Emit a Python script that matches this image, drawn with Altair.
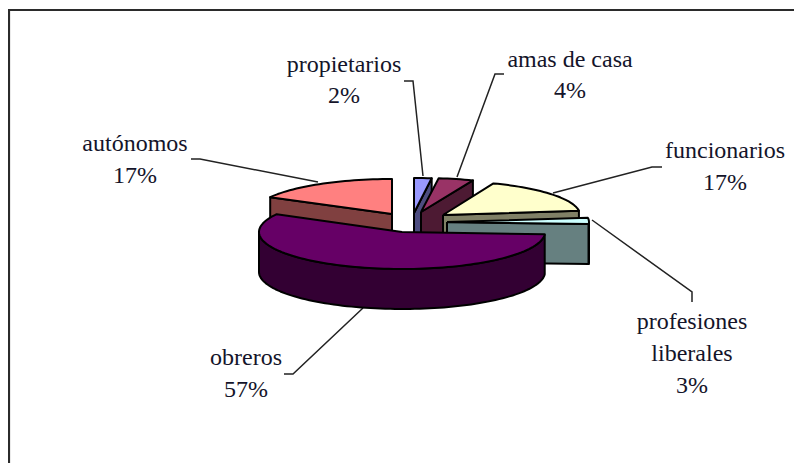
import math
import altair as alt
import pandas as pd

# ---- chart values -------------------------------------------------------
names = ["propietarios", "amas de casa", "funcionarios",
         "profesiones liberales", "obreros", "autónomos"]
shares = [2, 4, 17, 3, 57, 17]
top_colors = ["#9999ff", "#993366", "#ffffcc", "#ccffff", "#660066", "#ff8080"]
wall_colors = ["#4d4d80", "#4d1a33", "#808066", "#668080", "#330033", "#804040"]

# ---- exploded 3-D layout (page pixels) ----------------------------------
apex_x = [414, 421, 443, 447, 402, 392]
apex_y = [213, 212, 215, 222, 232, 214]
radius_x = [141, 141, 137, 142, 143, 139]
radius_y = [35, 34, 34, 33, 37, 35]
depth = 40
draw_order = [0, 1, 5, 2, 3, 4]

# ---- labels and leader lines --------------------------------------------
label_text = ["propietarios", "2%", "amas de casa", "4%", "funcionarios", "17%",
              "profesiones", "liberales", "3%", "obreros", "57%", "autónomos", "17%"]
label_x = [344, 344, 570, 570, 725, 725, 692, 692, 692, 246, 246, 135, 135]
label_y = [72, 103, 67, 98, 158, 190, 329, 361, 393, 365, 397, 151, 183]
leader_id = [0, 0, 0, 1, 1, 1, 2, 2, 2, 3, 3, 3, 4, 4, 4, 5, 5, 5]
leader_x = [404, 413, 423, 504, 495, 457, 662, 652, 553,
            592, 692, 692, 284, 293, 363, 191, 200, 318]
leader_y = [81, 81, 176, 74, 74, 177, 167, 167, 193,
            220, 292, 302, 374, 374, 308, 159, 159, 182]
frame_x = [9, 9, 802]
frame_y = [471, 10, 10]

W, H = 786, 455
x_scale = alt.Scale(domain=[8, 8 + W], range=[0, W], nice=False, zero=False)
y_scale = alt.Scale(domain=[8 + H, 8], range=[H, 0], nice=False, zero=False)


def arc_points(i, a0, a1):
    steps = max(2, int(abs(a1 - a0) / 2) + 1)
    pts = []
    for k in range(steps + 1):
        a = math.radians(a0 + (a1 - a0) * k / steps)
        pts.append((apex_x[i] + radius_x[i] * math.sin(a),
                    apex_y[i] - radius_y[i] * math.cos(a)))
    return pts


def drop(pts):
    return [(x, y + depth) for x, y in pts]


# slice start / end angles, clockwise from north
starts, cum = [], 0.0
for s in shares:
    starts.append(cum)
    cum += s * 3.6
ends = [a + s * 3.6 for a, s in zip(starts, shares)]

rows = []
poly_id = 0


def add(pts, color):
    global poly_id
    pts = list(pts) + [pts[0]]
    for n, (x, y) in enumerate(pts):
        rows.append({"poly": f"p{poly_id:03d}", "n": n, "x": x, "y": y, "color": color})
    poly_id += 1


for i in draw_order:
    a0, a1 = starts[i], ends[i]
    apex = (apex_x[i], apex_y[i])
    wall, top = wall_colors[i], top_colors[i]
    # radial cut faces that look toward the viewer
    if math.sin(math.radians(a0)) < -1e-6:
        r = arc_points(i, a0, a0)[0]
        add([apex, r, (r[0], r[1] + depth), (apex[0], apex[1] + depth)], wall)
    if math.sin(math.radians(a1)) > 1e-6:
        r = arc_points(i, a1, a1)[0]
        add([apex, r, (r[0], r[1] + depth), (apex[0], apex[1] + depth)], wall)
    # outer rim: only the part facing the viewer (90..270 degrees)
    lo, hi = max(a0, 90), min(a1, 270)
    if hi > lo:
        rim = arc_points(i, lo, hi)
        add(rim + drop(rim)[::-1], wall)
    add([apex] + arc_points(i, a0, a1), top)

polys = pd.DataFrame(rows)
labels = pd.DataFrame({"t": label_text, "x": label_x, "y": label_y})
leaders = pd.DataFrame({"id": leader_id, "x": leader_x, "y": leader_y,
                        "n": list(range(len(leader_x)))})
frame = pd.DataFrame({"x": frame_x, "y": frame_y, "n": [0, 1, 2]})

X = alt.X("x:Q", scale=x_scale, axis=None)
Y = alt.Y("y:Q", scale=y_scale, axis=None)

frame_layer = alt.Chart(frame).mark_line(color="#2b2b2b", strokeWidth=2.2, clip=False).encode(
    x=X, y=Y, order="n:Q")
leader_layer = alt.Chart(leaders).mark_line(color="#222222", strokeWidth=1.5).encode(
    x=X, y=Y, detail="id:N", order="n:Q")
poly_layer = alt.Chart(polys).mark_line(
    stroke="black", strokeWidth=2, strokeJoin="round", interpolate="linear"
).encode(
    x=X, y=Y, detail="poly:N", order="n:Q",
    fill=alt.Fill("color:N", scale=None, sort=None),
)
text_layer = alt.Chart(labels).mark_text(
    font="Liberation Serif", fontSize=24, align="center", baseline="alphabetic", color="#14142a"
).encode(x=X, y=Y, text="t:N")

chart = alt.layer(frame_layer, leader_layer, poly_layer, text_layer).properties(
    width=W, height=H, padding=0, autosize=alt.AutoSizeParams(type="none"),
    background="white"
).configure_view(stroke=None)

chart.save("out.html", embed_options={"renderer": "svg", "actions": False})
